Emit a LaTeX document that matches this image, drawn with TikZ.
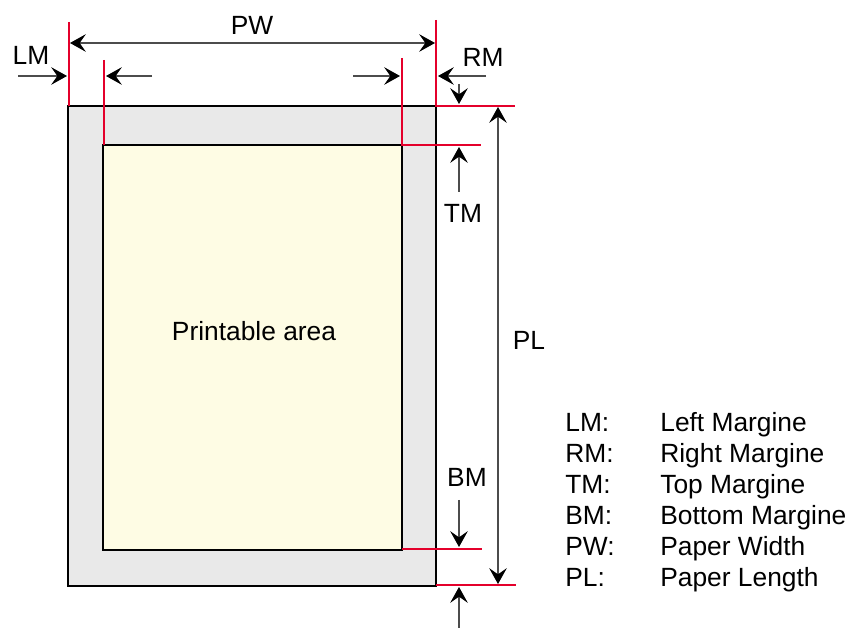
\documentclass[tikz,border=0pt]{standalone}
\usepackage{fontspec}
\setmainfont{Liberation Sans}
\usetikzlibrary{arrows.meta}
\definecolor{mred}{RGB}{228,0,43}
\definecolor{sheet}{RGB}{233,233,233}
\definecolor{parea}{RGB}{254,252,228}
\tikzset{
  edge/.style={mred,line width=1.4pt},
  dim/.style={black!70,line width=0.6pt},
  lbl/.style={anchor=base,inner sep=0pt},
}
\begin{document}
\begin{tikzpicture}[x=0.02cm,y=-0.02cm,font=\fontsize{15}{18}\selectfont,
    >={Stealth[length=9pt,width=10pt,inset=3.5pt,color=black]}]
  \useasboundingbox (0,0) rectangle (850,628);
  % 纸张与可打印区域
  \draw[line width=0.6pt,fill=sheet] (68,106) rectangle (436,586);
  \draw[line width=0.6pt,fill=parea] (103,145) rectangle (402,550);
  \node[lbl] (area) at (254,341) {Printable area};
  % 红色边界线
  \draw[edge] (69,22) coordinate (lmtop) -- (69,106);
  \draw[edge] (104,60) coordinate (iltop) -- (104,145);
  \draw[edge] (436,20) -- (436,106) -- (515,106);
  \draw[edge] (402,58) -- (402,145) -- (481,145);
  \draw[edge] (402,549) -- (482,549);
  \draw[edge] (436,585) -- (516,585);
  % 尺寸箭头的端点
  \coordinate (pwl) at (70,43);
  \coordinate (pwr) at (435,43);
  \coordinate (plt) at (498,107);
  \coordinate (plb) at (498,584);
  % 宽度方向
  \draw[dim,<->] (pwl) -- (pwr);
  \draw[dim,->] (18,76) -- (67,76);
  \draw[dim,->] (152,76) -- (106,76);
  \draw[dim,->] (353,76) -- (400,76);
  \draw[dim,->] (486,76) -- (438,76);
  % 长度方向
  \draw[dim,<->] (plt) -- (plb);
  \draw[dim,->] (459,84) -- (459,104);
  \draw[dim,->] (459,192) -- (459,147);
  \draw[dim,->] (459,500) -- (459,547);
  \draw[dim,->] (459,628) -- (459,587);
  % 标注
  \node[lbl] (pw) at (252,35) {PW};
  \node[lbl] (lm) at (31,65) {LM};
  \node[lbl] (rm) at (483,67) {RM};
  \node[lbl] (tm) at (463,223) {TM};
  \node[lbl] (pl) at (529,350) {PL};
  \node[lbl] (bm) at (467,487) {BM};
  % 图例
  \foreach \k/\t [count=\i from 0] in {LM/Left Margine,RM/Right Margine,
      TM/Top Margine,BM/Bottom Margine,PW/Paper Width,PL/Paper Length}{
    \node[anchor=base west,inner sep=0pt] (key\i) at (565,432+31*\i) {\k:};
    \node[anchor=base west,inner sep=0pt] (txt\i) at (660,432+31*\i) {\t};
  }
\end{tikzpicture}
\end{document}
